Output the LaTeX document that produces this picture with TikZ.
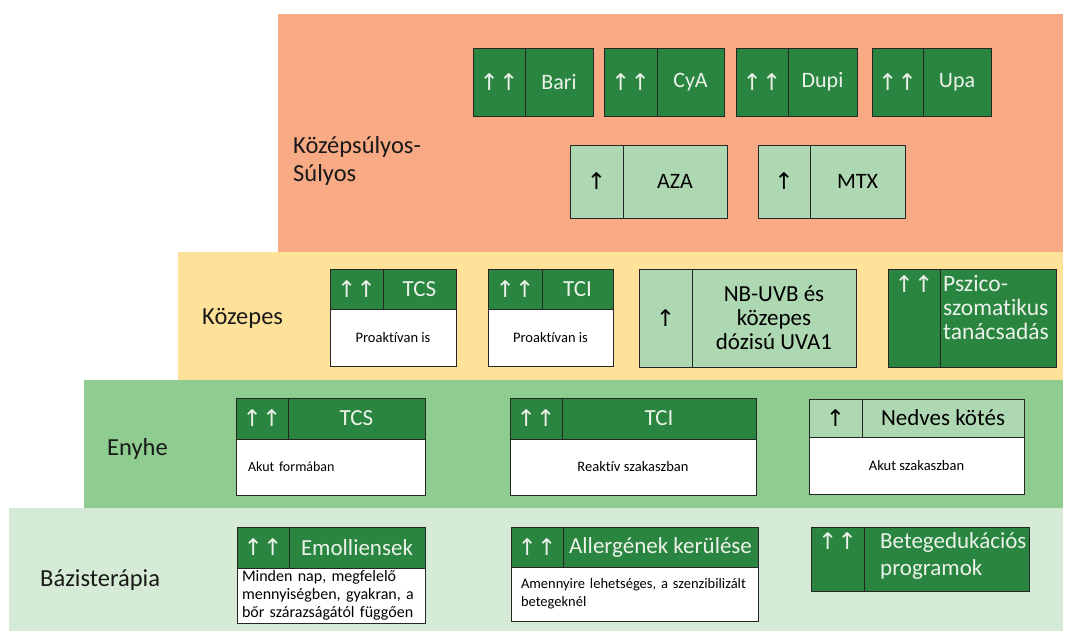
\documentclass[tikz,border=0pt]{standalone}
\usepackage{fontspec}
\setmainfont{Carlito}[Ligatures={NoCommon,NoRequired,NoContextual}]
\newfontfamily\arrowfont{DejaVu Sans}
\definecolor{bandA}{RGB}{248,170,132}
\definecolor{bandB}{RGB}{255,226,153}
\definecolor{bandC}{RGB}{142,204,143}
\definecolor{bandD}{RGB}{214,235,214}
\definecolor{dkgreen}{RGB}{42,133,64}
\definecolor{lgbox}{RGB}{174,216,178}
\definecolor{dktext}{RGB}{236,242,234}
\newcommand\fs[2]{\fontsize{#1}{#2}\selectfont}
\newcommand\cellnode[7]{\node[#2, minimum width={(#5-#3)*1pt}, minimum height={(#6-#4)*1pt}] (#1) at (#3,#4) {#7};}
\tikzset{
  band/.style={draw=none, inner sep=0pt, outer sep=0pt, anchor=north west},
  cell/.style={draw=black!85, line width=0.9pt, inner sep=0pt, outer sep=0pt, anchor=north west},
  dk/.style={cell, fill=dkgreen, text=dktext, font=\fs{22}{24}},
  lg/.style={cell, fill=lgbox, text=black, font=\fs{22}{24}},
  wb/.style={cell, fill=white, text=black, font=\fs{14.5}{18}},
  arr/.style={font=\arrowfont\fs{23}{24}},
  lvl/.style={anchor=west, inner sep=0pt, font=\fs{24.5}{28}, text=black!90, align=left},
}
\begin{document}
\begin{tikzpicture}[x=1pt,y=-1pt]
\useasboundingbox (0,0) rectangle (1067,633);
% bands
\cellnode{bandA}{band, fill=bandA}{278}{14}{1063}{252}{}
\cellnode{bandB}{band, fill=bandB}{178}{252}{1063}{380}{}
\cellnode{bandC}{band, fill=bandC}{84}{380}{1063}{508}{}
\cellnode{bandD}{band, fill=bandD}{9}{508}{1063}{631}{}
% level labels
\node[lvl] (lA) at (293,161) {Középsúlyos-\\Súlyos};
\node[lvl] (lB) at (202,318) {Közepes};
\node[lvl] (lC) at (107,449) {Enyhe};
\node[lvl] (lD) at (40,580) {Bázisterápia};
% top row
\cellnode{bariA}{dk, arr}{473}{48}{525}{116}{↑↑}
\cellnode{bariB}{dk}{525}{48}{593}{116}{Bari}
\cellnode{cyaA}{dk, arr}{604}{48}{657}{116}{↑↑}
\cellnode{cyaB}{dk}{657}{48}{724}{116}{CyA}
\cellnode{dupiA}{dk, arr}{736}{48}{788}{116}{↑↑}
\cellnode{dupiB}{dk}{788}{48}{857}{116}{Dupi}
\cellnode{upaA}{dk, arr}{872}{48}{923}{116}{↑↑}
\cellnode{upaB}{dk}{923}{48}{991}{116}{Upa}
\cellnode{azaA}{lg, arr}{570}{145}{623}{218}{↑}
\cellnode{azaB}{lg}{623}{145}{727}{218}{AZA}
\cellnode{mtxA}{lg, arr}{758}{145}{810}{218}{↑}
\cellnode{mtxB}{lg}{810}{145}{905}{218}{MTX}
% kozepes row
\cellnode{tcsAa}{dk, arr}{330}{269}{383}{309}{↑↑}
\cellnode{tcsAb}{dk, font=\fs{23}{24}}{383}{269}{456}{309}{TCS}
\cellnode{tcsAc}{wb}{330}{309}{456}{366}{Proaktívan is}
\cellnode{tciAa}{dk, arr}{488}{269}{542}{309}{↑↑}
\cellnode{tciAb}{dk, font=\fs{23}{24}}{542}{269}{613}{309}{TCI}
\cellnode{tciAc}{wb}{488}{309}{613}{366}{Proaktívan is}
\cellnode{nbA}{lg, arr}{639}{269}{692}{367}{↑}
\cellnode{nbB}{lg, align=center, font=\fs{23}{24}}{692}{269}{856}{367}{NB-UVB és\\közepes\\dózisú UVA1}
\cellnode{psA}{dk}{888}{269}{940}{367}{}
\cellnode{psB}{dk}{940}{269}{1056}{367}{}
\node[anchor=north, inner sep=0pt, text=dktext, arr] (psAt) at ([yshift=-6pt]psA.north) {↑↑};
\node[anchor=north west, inner sep=0pt, text=dktext, align=left, font=\fs{23.5}{24}] (psBt) at ([xshift=3pt,yshift=-6pt]psB.north west) {Pszico-\\szomatikus\\tanácsadás};
% enyhe row
\cellnode{tcsBa}{dk, arr}{236}{398}{288}{439}{↑↑}
\cellnode{tcsBb}{dk, font=\fs{23}{24}}{288}{398}{425}{439}{TCS}
\cellnode{tcsBc}{wb, align=left, text width=165pt, font=\fs{14}{18}}{236}{439}{425}{495}{Akut formában}
\cellnode{tciBa}{dk, arr}{510}{398}{562}{439}{↑↑}
\cellnode{tciBb}{dk, font=\fs{23}{24}}{562}{398}{756}{439}{TCI}
\cellnode{tciBc}{wb}{510}{439}{756}{495}{Reaktív szakaszban}
\cellnode{nkA}{lg, arr}{809}{399}{862}{437}{↑}
\cellnode{nkB}{lg, font=\fs{23}{24}}{862}{399}{1024}{437}{Nedves kötés}
\cellnode{nkC}{wb}{809}{437}{1024}{494}{Akut szakaszban}
% bazis row
\cellnode{emA}{dk, arr}{237}{527}{289}{568}{↑↑}
\cellnode{emB}{dk, font=\fs{23}{24}}{289}{527}{425}{568}{Emolliensek}
\cellnode{emC}{wb, align=left, text width=178pt, font=\fs{16}{18}}{237}{568}{425}{623}{Minden nap, megfelelő\\mennyiségben, gyakran, a\\bőr szárazságától függően}
\cellnode{alA}{dk, arr}{511}{527}{563}{567}{↑↑}
\cellnode{alB}{dk, font=\fs{23}{24}}{563}{527}{758}{567}{Allergének kerülése}
\cellnode{alC}{wb, align=left, text width=227pt}{511}{567}{758}{621}{Amennyire lehetséges, a szenzibilizált\\betegeknél}
\cellnode{beA}{dk}{811}{527}{864}{591}{}
\cellnode{beB}{dk}{864}{527}{1029}{591}{}
\node[anchor=north, inner sep=0pt, text=dktext, arr] (beAt) at ([yshift=-5pt]beA.north) {↑↑};
\node[anchor=north west, inner sep=0pt, text=dktext, align=left, font=\fs{23}{27}] (beBt) at ([xshift=16pt,yshift=-5pt]beB.north west) {Betegedukációs\\programok};
\end{tikzpicture}
\end{document}
